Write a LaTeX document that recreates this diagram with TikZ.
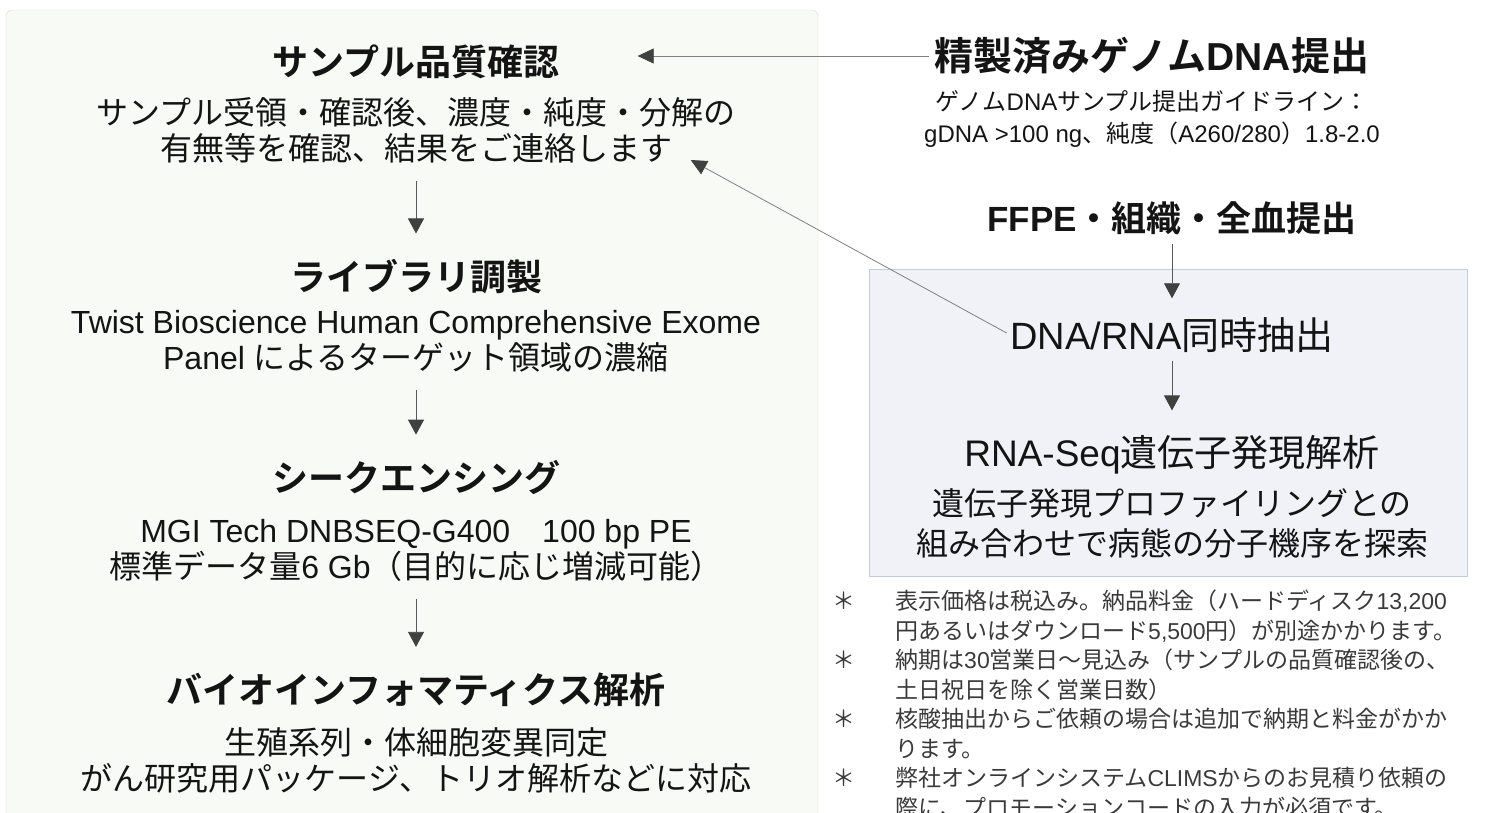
\documentclass[tikz,border=0pt]{standalone}
\usepackage{fontspec}
\setmainfont{Liberation Sans}
\newfontfamily\jpfont{Noto Sans CJK JP}[BoldFont={Noto Sans CJK JP Bold}]
\usetikzlibrary{arrows.meta}

\XeTeXinterchartokenstate=1
\newXeTeXintercharclass\jpclass
\makeatletter
\def\setjprange#1#2{\count@=#1\relax
  \loop\XeTeXcharclass\count@=\jpclass\advance\count@ by 1\relax
  \ifnum\count@<#2\repeat}
\makeatother
\setjprange{"3000}{"3100}
\setjprange{"4E00}{"A000}
\setjprange{"FF00}{"FFF0}
\XeTeXinterchartoks 0 \jpclass = {\jpfont}
\XeTeXinterchartoks 4095 \jpclass = {\jpfont}
\XeTeXinterchartoks \jpclass 0 = {\rmfamily}
\XeTeXinterchartoks \jpclass 4095 = {\rmfamily}

\definecolor{ink}{HTML}{141414}
\definecolor{noteink}{HTML}{3A3A3A}
\definecolor{panelfill}{HTML}{F8FAF5}
\definecolor{panelline}{HTML}{D5DACB}
\definecolor{boxfill}{HTML}{F0F2F8}
\definecolor{boxline}{HTML}{C3CBE3}
\definecolor{tipdark}{HTML}{404040}

\tikzset{
  step title/.style={
    font=\fontsize{36}{40}\selectfont\bfseries,
    text=ink,
    inner sep=0pt,
  },
  step text/.style={
    font=\fontsize{32}{36}\selectfont,
    align=center,
    text=ink,
    inner sep=0pt,
  },
  flow arrow/.style={
    draw=black!65,
    line width=0.8pt,
    -{Triangle[width=16pt,length=15pt,color=tipdark]},
  },
  link arrow/.style={
    draw=black!50,
    line width=0.8pt,
    -{Triangle[width=15pt,length=16pt,color=tipdark]},
  },
}

\begin{document}
\begin{tikzpicture}[x=1pt,y=-1pt]
        \useasboundingbox (0,0) rectangle (1485,812);
        \draw[fill=panelfill, draw=panelline, rounded corners=6pt] (6,10) rectangle (818,840);
        \draw[fill=boxfill, draw=boxline] (869,269) rectangle (1467,576);

        \node [step title] (qc) at (416,62) {サンプル品質確認};
        \node [step text] (qcdesc) at (416,130) {サンプル受領・確認後、濃度・純度・分解の\\有無等を確認、結果をご連絡します};
        \node [step title] (lib) at (416,277) {ライブラリ調製};
        \node [step text] (libdesc) at (416,341) {Twist Bioscience Human Comprehensive Exome\\Panel によるターゲット領域の濃縮};
        \node [step title] (seq) at (416,478) {シークエンシング};
        \node [step text] (seqdesc) at (416,550) {MGI Tech DNBSEQ-G400　100 bp PE\\標準データ量6 Gb（目的に応じ増減可能）};
        \node [step title] (bio) at (416,690) {バイオインフォマティクス解析};
        \node [step text] (biodesc) at (416,760) {生殖系列・体細胞変異同定\\がん研究用パッケージ、トリオ解析などに対応};

        \node [step title, font=\fontsize{39}{42}\selectfont\bfseries] (gdna) at (1152,56) {精製済みゲノムDNA提出};
        \node [step text, font=\fontsize{24}{32}\selectfont] (gdnadesc) at (1152,119) {ゲノムDNAサンプル提出ガイドライン：\\gDNA >100 ng、純度（A260/280）1.8-2.0};
        \node [step title, font=\fontsize{35}{40}\selectfont\bfseries] (ffpe) at (1172,218) {FFPE・組織・全血提出};
        \node [step text, font=\fontsize{38}{40}\selectfont] (extract) at (1172,335) {DNA/RNA同時抽出};
        \node [step text, font=\fontsize{37}{40}\selectfont] (rnaseq) at (1172,455) {RNA-Seq遺伝子発現解析};
        \node [step text, font=\fontsize{32}{40}\selectfont] (rnadesc) at (1172,523) {遺伝子発現プロファイリングとの\\組み合わせで病態の分子機序を探索};

        \node [anchor=north west, inner sep=0pt, text=noteink, font=\fontsize{23}{29.5}\selectfont] (notes) at (832,589) {%
          \begin{tabular}{@{}l@{\hspace{40pt}}l@{}}
            ＊ & 表示価格は税込み。納品料金（ハードディスク13,200\\
               & 円あるいはダウンロード5,500円）が別途かかります。\\
            ＊ & 納期は30営業日～見込み（サンプルの品質確認後の、\\
               & 土日祝日を除く営業日数）\\
            ＊ & 核酸抽出からご依頼の場合は追加で納期と料金がかか\\
               & ります。\\
            ＊ & 弊社オンラインシステムCLIMSからのお見積り依頼の\\
               & 際に、プロモーションコードの入力が必須です。
          \end{tabular}};

        \draw [flow arrow, shorten <=18pt, shorten >=26pt] (qcdesc) -- (lib);
        \draw [flow arrow, shorten <=18pt, shorten >=26pt] (libdesc) -- (seq);
        \draw [flow arrow, shorten <=18pt, shorten >=26pt] (seqdesc) -- (bio);
        \draw [flow arrow, shorten <=9pt, shorten >=19pt] (ffpe) -- (extract);
        \draw [flow arrow, shorten <=8pt, shorten >=25pt] (extract) -- (rnaseq);

        \draw [link arrow, shorten <=6pt] (gdna.west) -- ([xshift=78pt]qc.east |- gdna.west);
        \draw [link arrow, shorten <=4pt] (extract.west) -- ([xshift=-45pt,yshift=-30pt]qcdesc.east);
      \end{tikzpicture}
\end{document}
